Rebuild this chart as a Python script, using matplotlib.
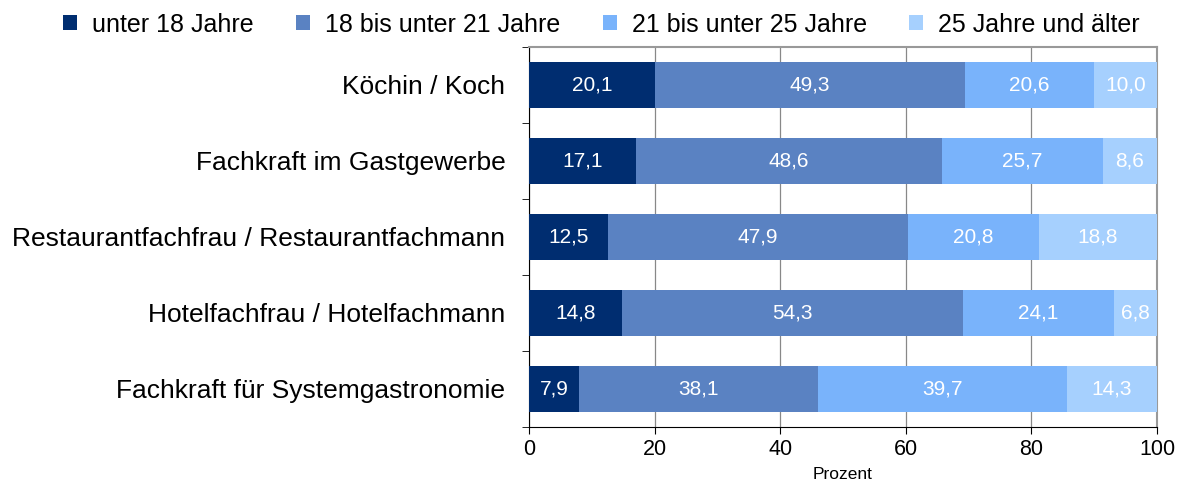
import numpy as np
import matplotlib.pyplot as plt

plt.rcParams['font.family'] = ['Liberation Sans', 'DejaVu Sans']

berufe = ['Köchin / Koch',
          'Fachkraft im Gastgewerbe',
          'Restaurantfachfrau / Restaurantfachmann',
          'Hotelfachfrau / Hotelfachmann',
          'Fachkraft für Systemgastronomie']
gruppen = ['unter 18 Jahre', '18 bis unter 21 Jahre',
           '21 bis unter 25 Jahre', '25 Jahre und älter']
unter18 = [20.1, 17.1, 12.5, 14.8, 7.9]
bis21 = [49.3, 48.6, 47.9, 54.3, 38.1]
bis25 = [20.6, 25.7, 20.8, 24.1, 39.7]
ab25 = [10.0, 8.6, 18.8, 6.8, 14.3]
farben = ['#002d70', '#5a82c2', '#79b3fb', '#a6d0fe']

werte = [unter18, bis21, bis25, ab25]

fig = plt.figure(figsize=(11.84, 4.88), dpi=100)
ax = fig.add_axes([0.4468, 0.125, 0.5304, 0.7787])

y = np.arange(len(berufe))
links = np.zeros(len(berufe))
for name, vals, col in zip(gruppen, werte, farben):
    vals = np.array(vals)
    bars = ax.barh(y, vals, left=links, height=0.6, color=col, label=name, zorder=3)
    for b, v in zip(bars, vals):
        ax.text(b.get_x() + b.get_width() / 2, b.get_y() + b.get_height() / 2,
                f'{v:.1f}'.replace('.', ','), ha='center', va='center',
                color='white', fontsize=15, zorder=4)
    links += vals

ax.set_xlim(0, 100)
ax.set_ylim(len(berufe) - 0.5, -0.5)
ax.set_xticks(range(0, 101, 20))
ax.set_yticks(y)
ax.set_yticklabels(berufe, fontsize=19)
ax.set_yticks(np.arange(-0.5, len(berufe)), minor=True)
ax.tick_params(axis='y', which='major', length=0, pad=17)
ax.tick_params(axis='y', which='minor', length=5, direction='out')
ax.tick_params(axis='x', labelsize=15.5, length=5, direction='out')
ax.set_xlabel('Prozent', fontsize=12.5, labelpad=5)
ax.grid(axis='x', color='#888888', linewidth=0.9, zorder=0)

for s in ['top', 'right']:
    ax.spines[s].set_color('#999999')
    ax.spines[s].set_linewidth(1.5)
ax.spines['left'].set_color('black')
ax.spines['bottom'].set_color('black')

fig.legend(loc='upper center', bbox_to_anchor=(0.508, 1.02), ncol=4, frameon=False,
           fontsize=18, handlelength=0.55, handleheight=0.55, handletextpad=0.6,
           columnspacing=1.7)

fig.savefig('out.png', dpi=100)
